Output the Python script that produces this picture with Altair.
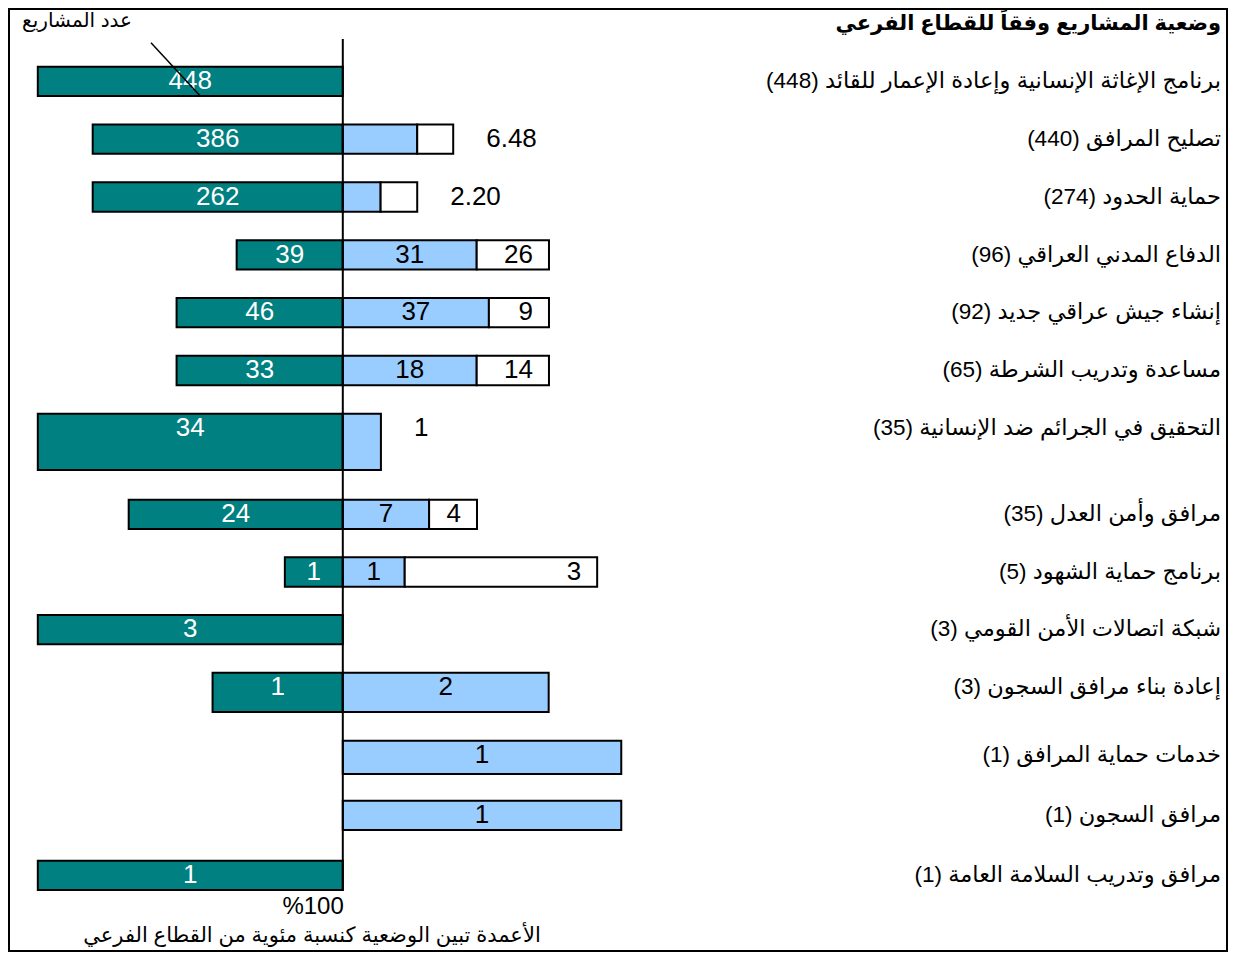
import altair as alt
import pandas as pd

# ---------------- data ----------------
categories = [
    "برنامج الإغاثة الإنسانية وإعادة الإعمار للقائد",
    "تصليح المرافق",
    "حماية الحدود",
    "الدفاع المدني العراقي",
    "إنشاء جيش عراقي جديد",
    "مساعدة وتدريب الشرطة",
    "التحقيق في الجرائم ضد الإنسانية",
    "مرافق وأمن العدل",
    "برنامج حماية الشهود",
    "شبكة اتصالات الأمن القومي",
    "إعادة بناء مرافق السجون",
    "خدمات حماية المرافق",
    "مرافق السجون",
    "مرافق وتدريب السلامة العامة",
]
totals = [448, 440, 274, 96, 92, 65, 35, 35, 5, 3, 3, 1, 1, 1]

# bar lengths as percent of the sub-sector (as drawn)
teal_pct = [100, 82.0, 82.0, 34.8, 54.5, 54.5, 100, 70.2, 19.0, 100, 42.7, 0, 0, 100]
blue_pct = [0, 24.4, 12.4, 43.9, 47.9, 43.9, 12.5, 28.3, 20.3, 0, 67.5, 91.3, 91.3, 0]
white_pct = [0, 11.8, 12.0, 23.7, 19.7, 23.7, 0, 15.7, 63.1, 0, 0, 0, 0, 0]

teal_labels = ["448", "386", "262", "39", "46", "33", "34", "24", "1", "3", "1", "", "", "1"]
blue_labels = ["", "", "", "31", "37", "18", "", "7", "1", "", "2", "1", "1", ""]
white_labels = ["", "", "", "26", "9", "14", "", "4", "3", "", "", "", "", ""]
outside_labels = ["", "6.48", "2.20", "", "", "", "1", "", "", "", "", "", "", ""]

title_text = "وضعية المشاريع وفقاً للقطاع الفرعي"
count_text = "عدد المشاريع"
pct_text = "%100"
note_text = "الأعمدة تبين الوضعية كنسبة مئوية من القطاع الفرعي"

# ---------------- layout / style ----------------
W, H = 1221, 945
CENTER = 334.8          # pixel of the 0 line
PX_PER_PCT = 3.05       # pixels per percent
FONT = "Liberation Sans, DejaVu Sans, sans-serif"
TEAL, BLUE, WHITE = "#008080", "#99CCFF", "#FFFFFF"
BAR_TOP = -14.3
BAR_BOTTOM_DEFAULT = 15
BAR_BOTTOM_EXTRA = {6: 42, 10: 25, 11: 19}

xscale = alt.Scale(domain=[-CENTER / PX_PER_PCT, (W - CENTER) / PX_PER_PCT],
                   range=[0, W], nice=False, zero=False)
yscale = alt.Scale(domain=[0, 6, 7, 10, 11, 13],
                   range=[73, 420, 506, 679, 747, 867], nice=False, zero=False)

n = len(categories)
rows = pd.DataFrame({
    "row": list(range(n)),
    "label": [f"({t}) {c}" for c, t in zip(categories, totals)],
    "teal": teal_pct,
    "blue": blue_pct,
    "white": white_pct,
    "teal_lab": teal_labels,
    "blue_lab": blue_labels,
    "white_lab": white_labels,
    "out_lab": outside_labels,
})

seg_rows = []
for i in range(n):
    if teal_pct[i] > 0:
        seg_rows.append({"row": i, "seg": "teal", "start": -teal_pct[i], "end": 0})
    if blue_pct[i] > 0:
        seg_rows.append({"row": i, "seg": "blue", "start": 0, "end": blue_pct[i]})
    if white_pct[i] > 0:
        seg_rows.append({"row": i, "seg": "white", "start": blue_pct[i],
                         "end": blue_pct[i] + white_pct[i]})
segs = pd.DataFrame(seg_rows)

fill_scale = alt.Scale(domain=["teal", "blue", "white"], range=[TEAL, BLUE, WHITE])


def bar_layer(bottom, rows_in=None, rows_out=None):
    ch = alt.Chart(segs)
    if rows_in is not None:
        ch = ch.transform_filter(alt.FieldOneOfPredicate(field="row", oneOf=rows_in))
    if rows_out is not None:
        ch = ch.transform_filter(
            {"not": alt.FieldOneOfPredicate(field="row", oneOf=rows_out)})
    return ch.mark_rect(stroke="black", strokeWidth=2,
                        yOffset=BAR_TOP, y2Offset=bottom).encode(
        x=alt.X("start:Q", scale=xscale, axis=None),
        x2="end:Q",
        y=alt.Y("row:Q", scale=yscale, axis=None),
        y2="row:Q",
        fill=alt.Fill("seg:N", scale=fill_scale, legend=None),
    )


extra_rows = list(BAR_BOTTOM_EXTRA.keys())
bars = [bar_layer(BAR_BOTTOM_DEFAULT, rows_out=extra_rows)]
for r, b in BAR_BOTTOM_EXTRA.items():
    bars.append(bar_layer(b, rows_in=[r]))

base = alt.Chart(rows)
ypos = alt.Y("row:Q", scale=yscale, axis=None)

teal_text = base.transform_calculate(xm="-datum.teal/2").mark_text(
    font=FONT, fontSize=26, color="white", align="center", baseline="middle"
).encode(x=alt.X("xm:Q", scale=xscale, axis=None), y=ypos, text="teal_lab:N")

blue_text = base.transform_calculate(xm="datum.blue/2").mark_text(
    font=FONT, fontSize=26, color="black", align="center", baseline="middle"
).encode(x=alt.X("xm:Q", scale=xscale, axis=None), y=ypos, text="blue_lab:N")

white_text = base.transform_calculate(xe="datum.blue+datum.white").mark_text(
    font=FONT, fontSize=26, color="black", align="right", baseline="middle", dx=-16
).encode(x=alt.X("xe:Q", scale=xscale, axis=None), y=ypos, text="white_lab:N")

out_text = base.transform_calculate(xe="datum.blue+datum.white").mark_text(
    font=FONT, fontSize=26, color="black", align="left", baseline="middle", dx=33
).encode(x=alt.X("xe:Q", scale=xscale, axis=None), y=ypos, text="out_lab:N")

row_text = base.mark_text(
    font=FONT, fontSize=22.5, color="black", align="right", baseline="middle"
).encode(x=alt.value(1213), y=ypos, text="label:N")

zero_df = pd.DataFrame({"x": [0]})
center_rule = alt.Chart(zero_df).mark_rule(color="black", strokeWidth=2).encode(
    x=alt.X("x:Q", scale=xscale, axis=None), y=alt.value(31), y2=alt.value(883))

pct_label = alt.Chart(pd.DataFrame({"x": [0], "t": [pct_text]})).mark_text(
    font=FONT, fontSize=24, color="black", align="right", baseline="middle", dx=1
).encode(x=alt.X("x:Q", scale=xscale, axis=None), y=alt.value(899), text="t:N")

one = pd.DataFrame({"t": [title_text], "c": [count_text], "n": [note_text]})
title_mark = alt.Chart(one).mark_text(
    font=FONT, fontSize=21, fontWeight="bold", color="black", align="right",
    baseline="middle").encode(x=alt.value(1213), y=alt.value(16), text="t:N")
count_mark = alt.Chart(one).mark_text(
    font=FONT, fontSize=20, color="black", align="right", baseline="middle"
).encode(x=alt.value(124), y=alt.value(13), text="c:N")
note_mark = alt.Chart(one).mark_text(
    font=FONT, fontSize=21, color="black", align="center", baseline="middle"
).encode(x=alt.value(304), y=alt.value(928), text="n:N")

diag = alt.Chart(one).mark_rule(color="black", strokeWidth=1.5).encode(
    x=alt.value(143), x2=alt.value(192), y=alt.value(34.7), y2=alt.value(87.7))

frame = alt.Chart(one).mark_rect(fill="transparent", stroke="black", strokeWidth=2).encode(
    x=alt.value(1), x2=alt.value(W - 2), y=alt.value(1), y2=alt.value(H - 2))

chart = alt.layer(
    frame, *bars, center_rule, teal_text, blue_text, white_text, out_text,
    row_text, pct_label, title_mark, count_mark, note_mark, diag
).properties(
    width=W, height=H, padding=0,
    autosize=alt.AutoSizeParams(type="none"),
).configure_view(stroke=None)

chart.save("out.html", embed_options={"renderer": "svg", "actions": False})
